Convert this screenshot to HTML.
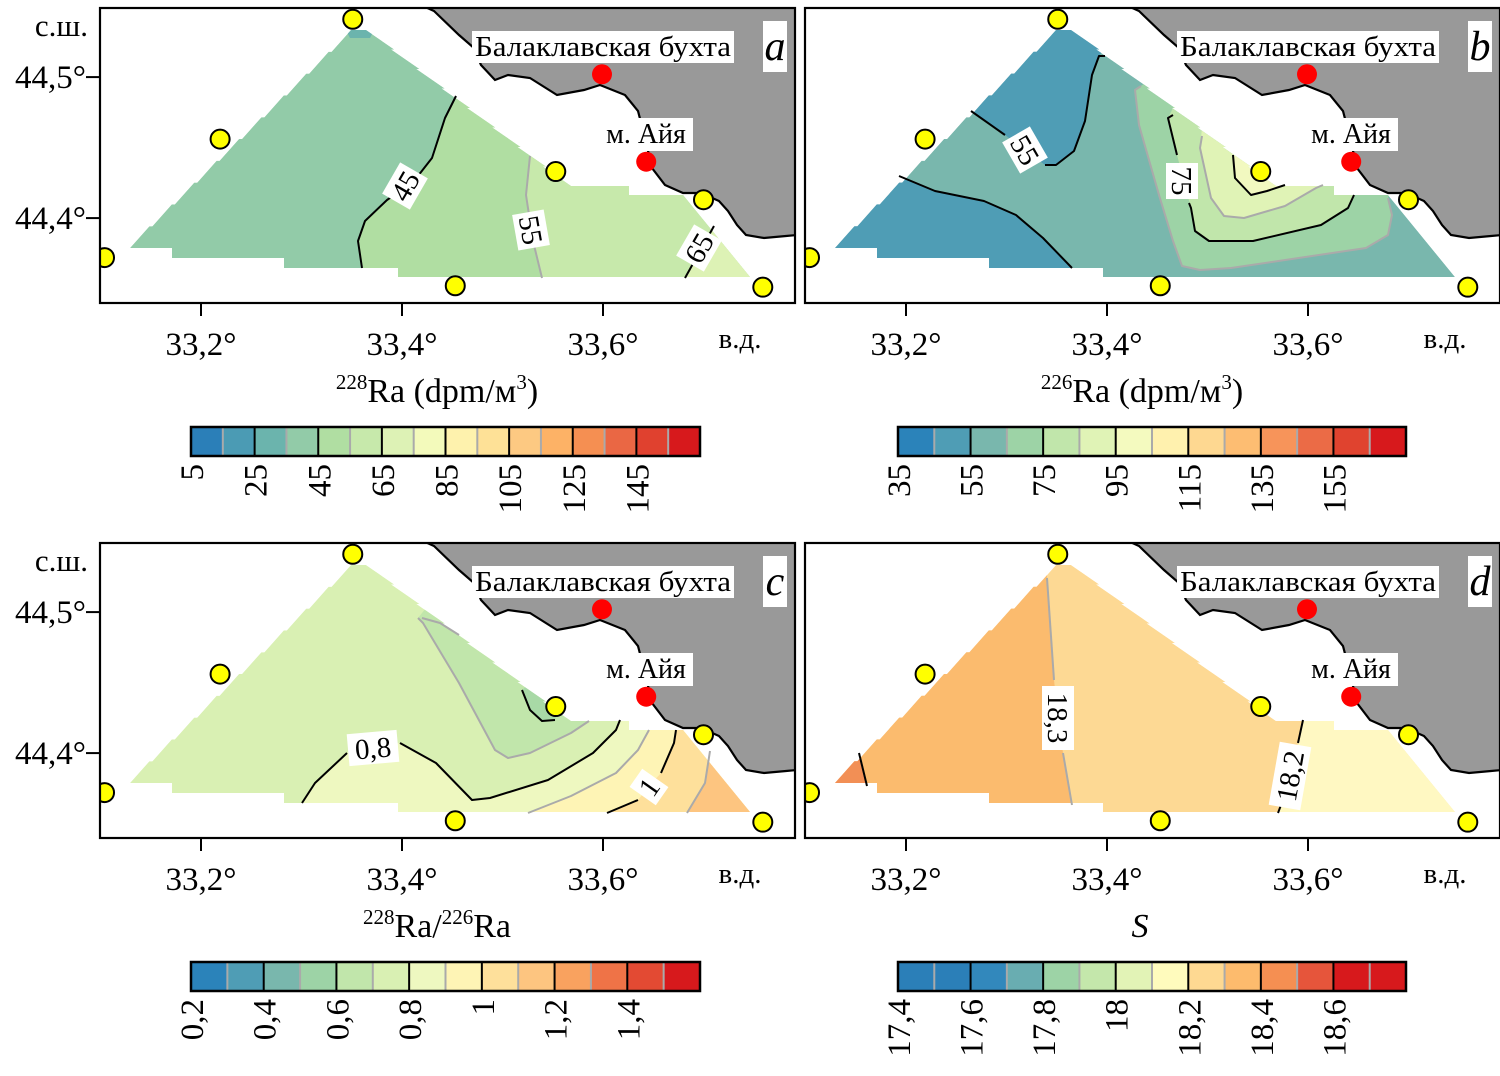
<!DOCTYPE html>
<html><head><meta charset="utf-8">
<style>
html,body{margin:0;padding:0;background:#fff;}
svg, svg text, svg tspan{font-family:"Liberation Serif","Times New Roman",serif;}
</style></head>
<body>
<svg id="fig" width="1500" height="1071" viewBox="0 0 1500 1071" xmlns="http://www.w3.org/2000/svg" font-family="Liberation Serif, serif"></svg>
<script>
// ---- data ----
const stationLon=[33.351,33.219,33.104,33.453,33.553,33.700,33.759];
const stationLat=[44.541,44.456,44.372,44.352,44.433,44.413,44.351];
const landmarkLon=[33.599,33.643];
const landmarkLat=[44.502,44.440];
const lonTicks=[33.2,33.4,33.6];
const lonTickLabels=["33,2°","33,4°","33,6°"];
const latTicks=[44.5,44.4];
const latTickLabels=["44,5°","44,4°"];
const cbA_ticks=[5,25,45,65,85,105,125,145];
const cbA_labels=["5","25","45","65","85","105","125","145"];
const cbA_range=[5,165];
const cbA_colors=['#2b7fb8','#4b9bb4','#6bb4ad','#92cba8','#b0dea2','#c7e9ab','#ddf2b5','#f3fabb','#fef2ad','#fee197','#fdc982','#fdb266','#f58f52','#ea6744','#e0412f','#d7191c'];
const cbB_ticks=[35,55,75,95,115,135,155];
const cbB_labels=["35","55","75","95","115","135","155"];
const cbB_range=[35,175];
const cbB_colors=['#2b83ba','#4f9db5','#79b7ad','#9dd3a6','#c1e6ab','#e0f3b6','#f4fabf','#fff1ae','#fed891','#fdbd72','#f7945a','#eb6b46','#e0432f','#d7191c'];
const cbC_ticks=[0.2,0.4,0.6,0.8,1.0,1.2,1.4];
const cbC_labels=["0,2","0,4","0,6","0,8","1","1,2","1,4"];
const cbC_range=[0.2,1.6];
const cbC_colors=['#2b83ba','#4f9db5','#79b7ad','#9dd3a6','#c1e6ab','#d9f0b3','#eef8c0','#fef4b5','#fee09b','#fdc580','#f9a25f','#ef7347','#e34a33','#d7191c'];
const cbD_ticks=[17.4,17.6,17.8,18.0,18.2,18.4,18.6];
const cbD_labels=["17,4","17,6","17,8","18","18,2","18,4","18,6"];
const cbD_range=[17.4,18.8];
const cbD_colors=['#2b7fb8','#2b7fb8','#3288bc','#69adb1','#9dd3a6','#c4e7ab','#e2f3b6','#fffbbd','#fed992','#fdbb6d','#f58f52','#e6553b','#d7191c','#d7191c'];

// ---- helpers ----
const NS="http://www.w3.org/2000/svg";
const FONT="Liberation Serif, Times New Roman, serif";
const svg=document.getElementById('fig');
function el(tag,attrs,parent){const e=document.createElementNS(NS,tag);for(const k in attrs)e.setAttribute(k,attrs[k]);if(tag==='text')e.setAttribute('font-family',FONT);(parent||svg).appendChild(e);return e;}
const PW=695,PH=295;
function X(lon){return (lon-33.0995)*1005;}
function Y(lat){return (44.549-lat)*1410;}
function pts(a){return a.map(p=>p[0]+','+p[1]).join(' ');}

// staircase edge between two points
function stairs(p0,p1,n,dx){const out=[];for(let k=0;k<n;k++){const a=[p0[0]+(p1[0]-p0[0])*k/n,p0[1]+(p1[1]-p0[1])*k/n];const b=[p0[0]+(p1[0]-p0[0])*(k+1)/n,p0[1]+(p1[1]-p0[1])*(k+1)/n];out.push([a[0]+dx,a[1]]);out.push([b[0],b[1]]);}return out;}
const domain=[[27,240]].concat(stairs([27,240],[251,22],10,3)).concat([[269,22]]).concat(stairs([269,22],[471,178],8,-3)).concat([[471,178],[529,178],[529,187],[583,187],[650,269],[298,269],[298,260],[184,260],[184,250],[72,250],[72,240]]);
const coast=[[323,-2],[334,3],[359,27],[374,40],[381,57],[395,72],[408,67],[430,70],[457,87],[484,82],[500,77],[525,87],[538,103],[545,130],[552,160],[565,177],[583,185],[601,185],[619,193],[628,203],[637,217],[646,227],[664,230],[686,228],[697,227]];

const panels=[
 {id:'a',ox:100,oy:8,letter:'a',base:'#92cba8',
  fills:[
   {c:'#b0dea2',p:[[360,-10],[356,88],[345,110],[332,150],[314,173],[287,192],[265,213],[258,233],[262,260],[262,300],[700,300],[700,-10]]},
   {c:'#c7e9ab',p:[[430,-10],[430,148],[426,187],[433,233],[442,270],[442,300],[700,300],[700,-10]]},
   {c:'#ddf2b5',p:[[625,190],[614,218],[585,270],[585,300],[700,300],[700,190]]},
   {c:'#6bb4ad',p:[[245,20],[275,20],[270,30],[250,30]]}],
  lines:[
   {s:'#000',p:[[356,88],[345,110],[332,150],[314,173],[287,192],[265,213],[258,233],[262,260]]},
   {s:'#aaa',p:[[430,148],[426,187],[433,233],[442,270]]},
   {s:'#000',p:[[614,218],[585,270]]}],
  labels:[{t:'45',x:305,y:178,r:-60},{t:'55',x:431,y:222,r:80},{t:'65',x:599,y:240,r:-60}]},
 {id:'b',ox:805,oy:8,letter:'b',base:'#79b7ad',
  fills:[
   {c:'#4f9db5',p:[[150,-10],[166,103],[200,127],[240,157],[251,157],[269,143],[280,113],[287,67],[294,48],[300,40],[300,-10]]},
   {c:'#4f9db5',p:[[-10,168],[94,168],[130,183],[179,193],[211,207],[238,230],[267,260],[267,300],[-10,300]]},
   {c:'#9dd3a6',p:[[340,75],[330,82],[334,117],[354,187],[368,233],[377,258],[395,262],[426,260],[561,240],[583,227],[587,207],[583,190],[600,150],[400,40]]},
   {c:'#c1e6ab',p:[[368,100],[363,110],[372,147],[386,200],[390,223],[404,233],[448,233],[516,217],[543,200],[549,187],[580,150],[400,60]]},
   {c:'#e0f3b6',p:[[397,120],[395,140],[406,190],[419,208],[439,210],[480,198],[511,180],[518,177],[540,150],[420,100]]},
   {c:'#f2f9c0',p:[[428,140],[430,170],[446,187],[462,183],[480,177],[500,160],[440,130]]}],
  lines:[
   {s:'#000',p:[[166,103],[200,127]]},
   {s:'#000',p:[[240,157],[251,157],[269,143],[280,113],[287,67],[294,48],[300,48]]},
   {s:'#000',p:[[94,168],[130,183],[179,193],[211,207],[238,230],[267,260]]},
   {s:'#aaa',p:[[336,78],[330,82],[334,117],[354,187],[368,233],[377,258],[395,262],[426,260],[561,240],[583,227],[587,207],[583,190]]},
   {s:'#000',p:[[368,107],[363,110],[372,147]]},
   {s:'#000',p:[[384,195],[386,200],[390,223],[404,233],[448,233],[516,217],[543,200],[549,187]]},
   {s:'#aaa',p:[[397,128],[395,140],[406,190],[419,208],[439,210],[480,198],[511,180],[518,177]]},
   {s:'#000',p:[[428,147],[430,170],[446,187],[462,183],[480,177]]}],
  labels:[{t:'55',x:220,y:142,r:60},{t:'75',x:377,y:173,r:90}]},
 {id:'c',ox:100,oy:543,letter:'c',base:'#d9f0b3',
  fills:[
   {c:'#c1e6ab',p:[[318,75],[323,80],[359,140],[395,207],[408,215],[430,210],[471,190],[489,178],[480,150],[380,60],[330,60]]},
   {c:'#a8d9a6',p:[[422,147],[430,167],[442,178],[455,177],[460,160],[430,140]]},
   {c:'#eef8c0',p:[[202,260],[215,240],[247,210],[273,200],[300,200],[336,220],[372,257],[390,255],[448,237],[493,210],[516,187],[520,177],[700,177],[700,300],[202,300]]},
   {c:'#fef4b5',p:[[428,270],[471,253],[516,230],[538,207],[549,187],[549,170],[700,170],[700,300],[428,300]]},
   {c:'#fee09b',p:[[507,270],[538,257],[549,243],[561,230],[574,200],[576,187],[576,170],[700,170],[700,300],[507,300]]},
   {c:'#fdc580',p:[[587,270],[605,240],[610,208],[610,170],[700,170],[700,300],[587,300]]}],
  lines:[
   {s:'#aaa',p:[[318,75],[323,80],[359,140],[395,207],[408,215],[430,210],[471,190],[489,178]]},
   {s:'#aaa',p:[[322,75],[340,80],[359,92]]},
   {s:'#000',p:[[422,147],[430,167],[442,178],[455,177]]},
   {s:'#000',p:[[202,260],[215,240],[247,210]]},
   {s:'#000',p:[[300,200],[336,220],[372,257],[390,255],[448,237],[493,210],[516,187],[520,177]]},
   {s:'#aaa',p:[[428,270],[471,253],[516,230],[538,207],[549,187]]},
   {s:'#000',p:[[507,270],[538,257]]},
   {s:'#000',p:[[561,230],[574,200],[576,187]]},
   {s:'#aaa',p:[[587,270],[605,240],[610,208]]}],
  labels:[{t:'0,8',x:273,y:205,r:-5},{t:'1',x:549,y:244,r:-55}]},
 {id:'d',ox:805,oy:543,letter:'d',base:'#fdd994',
  fills:[
   {c:'#fbbb6e',p:[[0,-10],[242,-10],[242,35],[249,137],[253,173],[258,210],[267,262],[267,300],[0,300]]},
   {c:'#f28f55',p:[[0,200],[54,210],[62,243],[62,300],[0,300]]},
   {c:'#fff8c2',p:[[498,170],[493,200],[484,233],[473,270],[473,300],[700,300],[700,170]]}],
  lines:[
   {s:'#aaa',p:[[242,35],[249,137]]},
   {s:'#aaa',p:[[258,210],[267,262]]},
   {s:'#000',p:[[498,177],[493,200]]},
   {s:'#000',p:[[476,262],[473,270]]},
   {s:'#000',p:[[54,210],[62,243]]}],
  labels:[{t:'18,3',x:253,y:175,r:90},{t:'18,2',x:485,y:233,r:-80}]}
];

const defs=el('defs',{});
const cp=el('clipPath',{id:'dom'},defs);
el('polygon',{points:pts(domain)},cp);
const fc=el('clipPath',{id:'frame'},defs);
el('rect',{x:0,y:0,width:PW,height:PH},fc);

panels.forEach(P=>{
  const g=el('g',{transform:`translate(${P.ox},${P.oy})`});
  
  
  const inner=el('g',{'clip-path':'url(#frame)'},g);
  const land=el('polygon',{points:pts(coast.concat([[700,227],[700,-5]])),fill:'#999999'},inner);
  
  
  const cl=el('polyline',{points:pts(coast),fill:'none',stroke:'#000','stroke-width':2.2},inner);
  
  
  const fg=el('g',{'clip-path':'url(#dom)'},inner);
  
  
  el('polygon',{points:pts(domain),fill:P.base},fg);
  P.fills.forEach(f=>{
    const r=el('polygon',{points:pts(f.p),fill:f.c},fg);
    
    
  });
  P.lines.forEach(l=>{
    const r=el('polyline',{points:pts(l.p),fill:'none',stroke:l.s,'stroke-width':2,'stroke-linejoin':'round'},inner);
    
    
  });
  P.labels.forEach(L=>{
    const lg=el('g',{transform:`translate(${L.x},${L.y}) rotate(${L.r})`},inner);
    
    
    const w=L.t.length*14+8;
    el('rect',{x:-w/2,y:-16,width:w,height:32,fill:'#fff'},lg);
    const t=el('text',{x:0,y:10,'text-anchor':'middle','font-size':29},lg);t.textContent=L.t;
  });
  stationLon.forEach((lo,i)=>{
    const c=el('circle',{cx:X(lo),cy:Y(stationLat[i]),r:9.5,fill:'#ffff00',stroke:'#000','stroke-width':2},inner);
    
    
  });
  landmarkLon.forEach((lo,i)=>{
    const c=el('circle',{cx:X(lo),cy:Y(landmarkLat[i]),r:10,fill:'#ff0000'},inner);
    
    
  });
  const b1=el('rect',{x:372,y:23,width:262,height:32,fill:'#fff'},inner);
  
  
  const t1=el('text',{x:503,y:48,'text-anchor':'middle','font-size':28,textLength:256,lengthAdjust:'spacingAndGlyphs'},inner);t1.textContent='Балаклавская бухта';
  
  
  el('rect',{x:500,y:110,width:93,height:33,fill:'#fff'},inner);
  const t2=el('text',{x:546,y:135,'text-anchor':'middle','font-size':28},inner);t2.textContent='м. Айя';
  
  
  el('rect',{x:663,y:13,width:24,height:51,fill:'#fff'},inner);
  const t3=el('text',{x:675,y:52,'text-anchor':'middle','font-size':42,'font-style':'italic'},inner);t3.textContent=P.letter;
  
  
  const fr=el('rect',{x:0,y:0,width:PW,height:PH,fill:'none',stroke:'#000','stroke-width':2.2},g);
  
  
  lonTicks.forEach((lo,i)=>{
    el('line',{x1:X(lo),x2:X(lo),y1:PH,y2:PH+13,stroke:'#000','stroke-width':2},g);
    const t=el('text',{x:X(lo),y:PH+52,'text-anchor':'middle','font-size':33},g);t.textContent=lonTickLabels[i];
    
    
  });
  const vd=el('text',{x:640,y:PH+45,'text-anchor':'middle','font-size':29},g);vd.textContent='в.д.';
  
  
  if(P.id==='a'||P.id==='c'){
    latTicks.forEach((la,i)=>{
      el('line',{x1:-14,x2:0,y1:Y(la),y2:Y(la),stroke:'#000','stroke-width':2},g);
      const t=el('text',{x:-14,y:Y(la)+11,'text-anchor':'end','font-size':33},g);t.textContent=latTickLabels[i];
      
      
    });
    const sh=el('text',{x:-12,y:28,'text-anchor':'end','font-size':31},g);sh.textContent='с.ш.';
    
    
  }
});

function title(x,y,html,name){
  const t=el('text',{x:x,y:y,'text-anchor':'middle','font-size':34});
  t.innerHTML=html;
  
  
}
title(437,402,'<tspan font-size="21" dy="-13">228</tspan><tspan dy="13">Ra (dpm/м</tspan><tspan font-size="21" dy="-13">3</tspan><tspan dy="13">)</tspan>','x-axis-title-a');
title(1142,402,'<tspan font-size="21" dy="-13">226</tspan><tspan dy="13">Ra (dpm/м</tspan><tspan font-size="21" dy="-13">3</tspan><tspan dy="13">)</tspan>','x-axis-title-b');
title(437,937,'<tspan font-size="21" dy="-13">228</tspan><tspan dy="13">Ra/</tspan><tspan font-size="21" dy="-13">226</tspan><tspan dy="13">Ra</tspan>','x-axis-title-c');
title(1140,937,'<tspan font-style="italic">S</tspan>','x-axis-title-d');

function colorbar(x0,y0,w,h,colors,range,ticks,labels,name){
  const g=el('g',{});
  
  
  const n=colors.length, step=(range[1]-range[0])/n;
  const V=v=>x0+(v-range[0])/(range[1]-range[0])*w;
  colors.forEach((c,i)=>{
    const r=el('rect',{x:V(range[0]+i*step),y:y0,width:w/n+0.5,height:h,fill:c},g);
    
    
  });
  for(let i=1;i<n;i++){
    const v=range[0]+i*step;
    const major=ticks.some(t=>Math.abs(t-v)<1e-6);
    el('line',{x1:V(v),x2:V(v),y1:y0,y2:y0+h,stroke:major?'#000':'#aaa','stroke-width':2},g);
  }
  el('rect',{x:x0,y:y0,width:w,height:h,fill:'none',stroke:'#000','stroke-width':2.5},g);
  ticks.forEach((t,i)=>{
    const tx=el('text',{transform:`translate(${V(t)+12},${y0+h+8}) rotate(-90)`,'text-anchor':'end','font-size':33},g);
    tx.textContent=labels[i];
    
    
  });
}
colorbar(191,427,509,29,cbA_colors,cbA_range,cbA_ticks,cbA_labels,'colorbar-a');
colorbar(898,427,508,29,cbB_colors,cbB_range,cbB_ticks,cbB_labels,'colorbar-b');
colorbar(191,962,509,29,cbC_colors,cbC_range,cbC_ticks,cbC_labels,'colorbar-c');
colorbar(898,962,508,29,cbD_colors,cbD_range,cbD_ticks,cbD_labels,'colorbar-d');
</script>
</body></html>
